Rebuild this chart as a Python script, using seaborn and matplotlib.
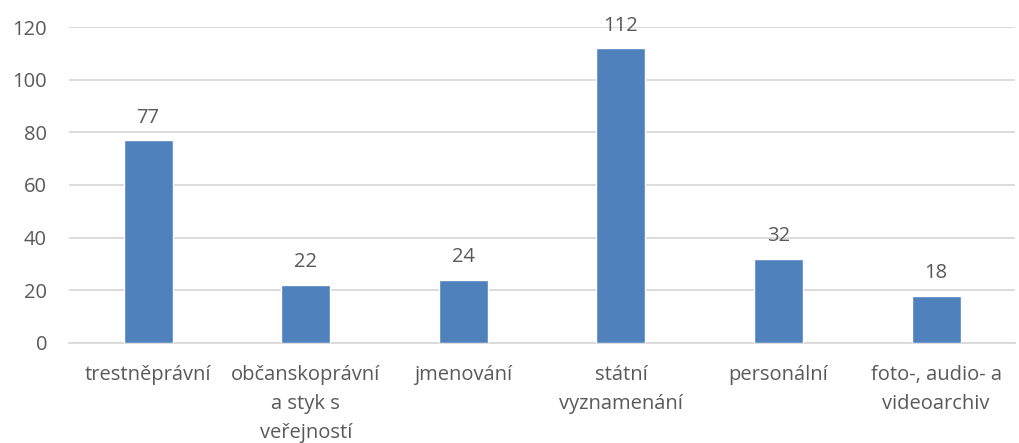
import matplotlib
matplotlib.use("Agg")
import matplotlib.pyplot as plt
import seaborn as sns
import pandas as pd

categories = ["trestněprávní", "občanskoprávní\na styk s\nveřejností", "jmenování",
              "státní\nvyznamenání", "personální", "foto-, audio- a\nvideoarchiv"]
values = [77, 22, 24, 112, 32, 18]
yticks = [0, 20, 40, 60, 80, 100, 120]

sns.set_theme(style="white")
plt.rcParams['font.family'] = ['Open Sans', 'DejaVu Sans']

text_color = "#595959"
df = pd.DataFrame({"kategorie": categories, "pocet": values})

fig = plt.figure(figsize=(10.19, 4.43), dpi=100)
ax = fig.add_axes([0.068, 0.226, 0.928, 0.713])

sns.barplot(data=df, x="kategorie", y="pocet", color="#4F81BD", saturation=1,
            width=0.31, ax=ax, zorder=3)

ax.set_ylim(0, 120)
ax.set_yticks(yticks)
ax.set_xlim(-0.5, len(categories) - 0.5)
ax.yaxis.grid(True, color="#D9D9D9", linewidth=1.3, zorder=0)
ax.set_axisbelow(True)
for s in ["top", "right", "left"]:
    ax.spines[s].set_visible(False)
ax.spines["bottom"].set_color("#D9D9D9")
ax.spines["bottom"].set_linewidth(1.3)

ax.set_xlabel("")
ax.set_ylabel("")
ax.tick_params(axis="both", length=0, labelsize=14.5, labelcolor=text_color)
ax.tick_params(axis="y", pad=16)
ax.tick_params(axis="x", pad=16)
for lbl in ax.get_xticklabels():
    lbl.set_linespacing(1.6)

for cont in ax.containers:
    ax.bar_label(cont, labels=[str(v) for v in values], padding=9,
                 fontsize=14.5, color=text_color)

fig.savefig("out.png", dpi=100)
